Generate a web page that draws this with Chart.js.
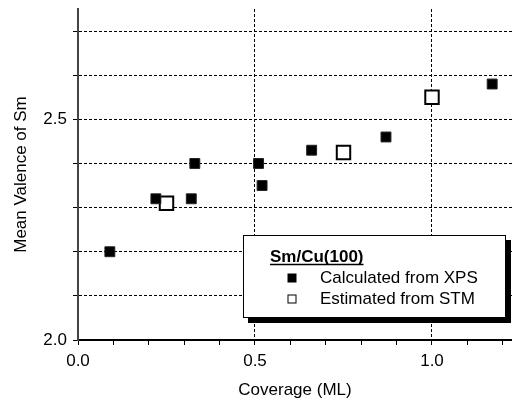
<!DOCTYPE html>
<html>
<head>
<meta charset="utf-8">
<script src="https://cdn.jsdelivr.net/npm/chart.js@4.4.0/dist/chart.umd.min.js"></script>
<style>
  html, body { margin: 0; padding: 0; background: #fff; }
  #wrap { width: 512px; height: 401px; }
</style>
</head>
<body>
<div id="wrap"><canvas id="myChart" width="512" height="401"></canvas></div>
<script>
// du lieu doc tu hinh
var xpsX = [0.09, 0.22, 0.32, 0.33, 0.51, 0.52, 0.66, 0.87, 1.17];
var xpsY = [2.20, 2.32, 2.32, 2.40, 2.40, 2.35, 2.43, 2.46, 2.58];
var stmX = [0.25, 0.75, 1.00];
var stmY = [2.31, 2.425, 2.55];

var xTicks = [0, 0.1, 0.2, 0.3, 0.4, 0.5, 0.6, 0.7, 0.8, 0.9, 1.0, 1.1, 1.2];
var xLabels = [0, 0.5, 1.0];
var yTicks = [2.0, 2.1, 2.2, 2.3, 2.4, 2.5, 2.6, 2.7];
var yLabels = [2.0, 2.5];

var legendTitle = 'Sm/Cu(100)';
var xpsLabel = 'Calculated from XPS';
var stmLabel = 'Estimated from STM';

function hasVal(list, v) {
    return list.some(function (t) { return Math.abs(t - v) < 1e-6; });
}
function toPoints(xs, ys) {
    return xs.map(function (x, i) { return { x: x, y: ys[i] }; });
}

Chart.defaults.font.family = '"Liberation Sans", Arial, sans-serif';
Chart.defaults.font.size = 17;
Chart.defaults.color = '#000';

// chu giai dat trong khung, co bong den
var boxLegend = {
    id: 'boxLegend',
    afterDraw: function (chart) {
        var ctx = chart.ctx;
        var area = chart.chartArea;
        var bw = 263, bh = 83;
        var bx = area.right - 6 - bw;
        var by = area.bottom - 22 - bh;
        ctx.save();
        ctx.fillStyle = '#000';
        ctx.fillRect(bx + 5, by + 5, bw, bh);
        ctx.fillStyle = '#fff';
        ctx.fillRect(bx, by, bw, bh);
        ctx.strokeStyle = '#000';
        ctx.lineWidth = 1;
        ctx.strokeRect(bx + 0.5, by + 0.5, bw - 1, bh - 1);

        ctx.fillStyle = '#000';
        ctx.font = 'bold 17px "Liberation Sans", Arial, sans-serif';
        ctx.textBaseline = 'alphabetic';
        ctx.textAlign = 'left';
        var tx = bx + 27, ty = by + 27;
        ctx.fillText(legendTitle, tx, ty);
        var tw = ctx.measureText(legendTitle).width;
        ctx.lineWidth = 1.5;
        ctx.beginPath();
        ctx.moveTo(tx, ty + 2.5);
        ctx.lineTo(tx + tw, ty + 2.5);
        ctx.stroke();

        ctx.font = '17px "Liberation Sans", Arial, sans-serif';
        ctx.textBaseline = 'middle';
        var mx = bx + 49;
        var y1 = by + 43, y2 = by + 64;
        ctx.fillRect(mx - 4.5, y1 - 4.5, 9, 9);
        ctx.lineWidth = 1;
        ctx.strokeRect(mx - 4, y2 - 4, 8, 8);
        ctx.fillText(xpsLabel, bx + 77, y1);
        ctx.fillText(stmLabel, bx + 77, y2);
        ctx.restore();
    }
};

var ctx = document.getElementById('myChart').getContext('2d');
var myChart = new Chart(ctx, {
    type: 'scatter',
    data: {
        datasets: [{
            label: xpsLabel,
            data: toPoints(xpsX, xpsY),
            pointStyle: 'rect',
            pointRadius: 7,
            backgroundColor: '#000',
            borderColor: '#222',
            borderWidth: 1
        }, {
            label: stmLabel,
            data: toPoints(stmX, stmY),
            pointStyle: 'rect',
            pointRadius: 9.5,
            backgroundColor: '#fff',
            borderColor: '#000',
            borderWidth: 2
        }]
    },
    options: {
        responsive: false,
        animation: false,
        layout: { autoPadding: false, padding: { top: 9, right: 0, left: 0, bottom: 0 } },
        plugins: {
            legend: { display: false },
            tooltip: { enabled: false }
        },
        scales: {
            x: {
                type: 'linear',
                min: 0,
                max: 1.226,
                afterBuildTicks: function (scale) {
                    scale.ticks = xTicks.map(function (v) { return { value: v }; });
                },
                afterFit: function (scale) { scale.height = 61; },
                ticks: {
                    autoSkip: false,
                    maxRotation: 0,
                    padding: 6,
                    callback: function (v) { return hasVal(xLabels, v) ? v.toFixed(1) : ''; }
                },
                grid: {
                    color: function (c) {
                        return c.tick && c.tick.value > 0.01 && hasVal(xLabels, c.tick.value) ? '#000' : 'rgba(0,0,0,0)';
                    },
                    lineWidth: 1,
                    tickColor: '#000',
                    tickLength: 5,
                    tickWidth: 1,
                    tickBorderDash: []
                },
                border: { color: '#000', width: 2, dash: [3, 2] },
                title: { display: true, text: 'Coverage (ML)', padding: { top: 6, bottom: 0 } }
            },
            y: {
                type: 'linear',
                min: 2.0,
                max: 2.75,
                afterBuildTicks: function (scale) {
                    scale.ticks = yTicks.map(function (v) { return { value: v }; });
                },
                afterFit: function (scale) { scale.width = 78; },
                ticks: {
                    autoSkip: false,
                    padding: 6,
                    font: { lineHeight: 0.3 },
                    callback: function (v) { return hasVal(yLabels, v) ? v.toFixed(1) : ''; }
                },
                grid: {
                    color: function (c) {
                        return c.tick && c.tick.value > 2.01 ? '#000' : 'rgba(0,0,0,0)';
                    },
                    lineWidth: 1,
                    tickColor: '#000',
                    tickLength: 5,
                    tickWidth: 1,
                    tickBorderDash: []
                },
                border: { color: '#444', width: 2, dash: [3, 2] },
                title: { display: true, text: 'Mean Valence of Sm', padding: { top: 11, bottom: 0 } }
            }
        }
    },
    plugins: [boxLegend]
});
</script>
</body>
</html>
